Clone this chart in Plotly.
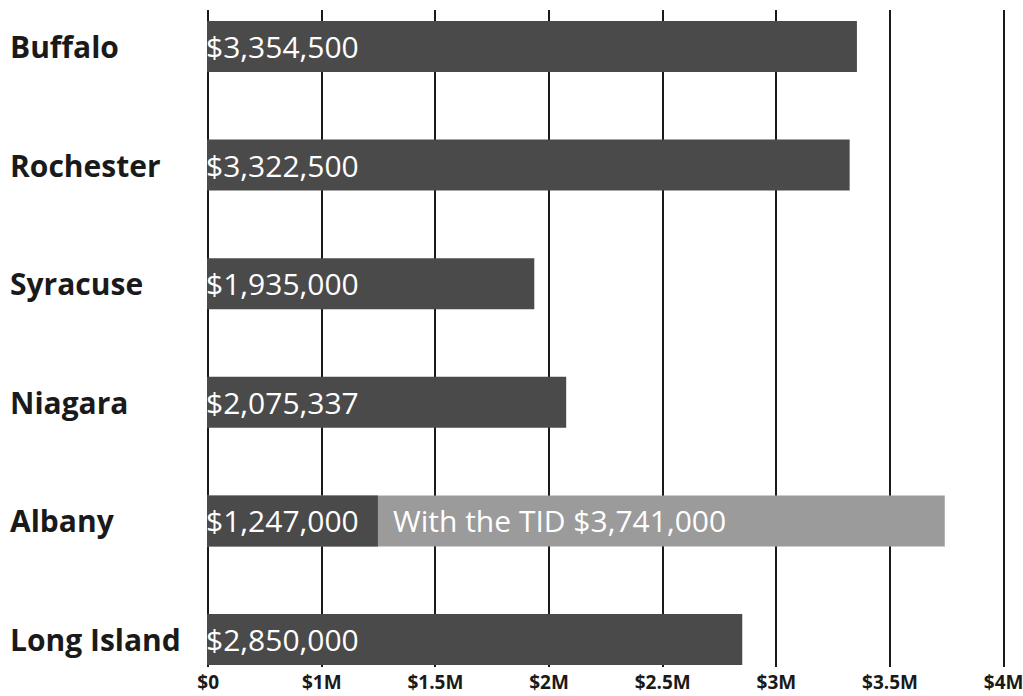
import plotly.graph_objects as go

# ---- data ----
cities = ["Buffalo", "Rochester", "Syracuse", "Niagara", "Albany", "Long Island"]
funding = [3354500, 3322500, 1935000, 2075337, 1247000, 2850000]
tid_city = "Albany"
tid_funding = 3741000
tick_vals = [500000, 1000000, 1500000, 2000000, 2500000, 3000000, 3500000, 4000000]
tick_text = ["$0", "$1M", "$1.5M", "$2M", "$2.5M", "$3M", "$3.5M", "$4M"]

DARK = "#4a4a4a"
LIGHT = "#9b9b9b"
INK = "#1a1a1a"
FONT = "Open Sans"

axis_start = 495000
axis_end = 4050000

fig = go.Figure()

# light "with the TID" bar drawn behind
fig.add_trace(go.Bar(
    y=[tid_city], x=[tid_funding], orientation="h",
    marker=dict(color=LIGHT, line=dict(width=0)),
    hoverinfo="skip", showlegend=False,
))
# main bars
fig.add_trace(go.Bar(
    y=cities, x=funding, orientation="h",
    marker=dict(color=DARK, line=dict(width=0)),
    hoverinfo="skip", showlegend=False,
))

annotations = []
for c, v in zip(cities, funding):
    # value label inside bar, at left of plot
    annotations.append(dict(
        x=axis_start, y=c, xref="x", yref="y", xanchor="left", yanchor="middle",
        text=f"${v:,}", showarrow=False, xshift=-3,
        font=dict(family=FONT, size=30, color="white"),
    ))
    # category label at far left
    annotations.append(dict(
        x=0, y=c, xref="paper", yref="y", xanchor="left", yanchor="middle",
        text=c, showarrow=False, xshift=-199,
        font=dict(family=FONT, size=30, color=INK, weight="bold"),
    ))

tid_base = funding[cities.index(tid_city)]
annotations.append(dict(
    x=tid_base, y=tid_city, xref="x", yref="y", xanchor="left", yanchor="middle",
    text=f"With the TID ${tid_funding:,}", showarrow=False, xshift=13,
    font=dict(family=FONT, size=30, color="white"),
))

fig.update_layout(
    width=1023, height=696,
    margin=dict(l=207, r=8, t=10, b=29, autoexpand=False),
    paper_bgcolor="white", plot_bgcolor="white",
    barmode="overlay", bargap=0.57,
    annotations=annotations,
    xaxis=dict(
        range=[axis_start, axis_end], automargin=False,
        tickvals=tick_vals, ticktext=tick_text,
        showgrid=True, gridcolor=INK, gridwidth=2,
        zeroline=False, showline=False, ticks="",
        ticklabelstandoff=2, ticklabeloverflow="allow",
        tickfont=dict(family=FONT, size=19, color=INK, weight="bold"),
    ),
    yaxis=dict(
        type="category", categoryorder="array", categoryarray=cities,
        range=[5.232, -0.308], automargin=False,
        showticklabels=False, showgrid=False, zeroline=False, showline=False,
    ),
)

fig.write_html("out.html")
